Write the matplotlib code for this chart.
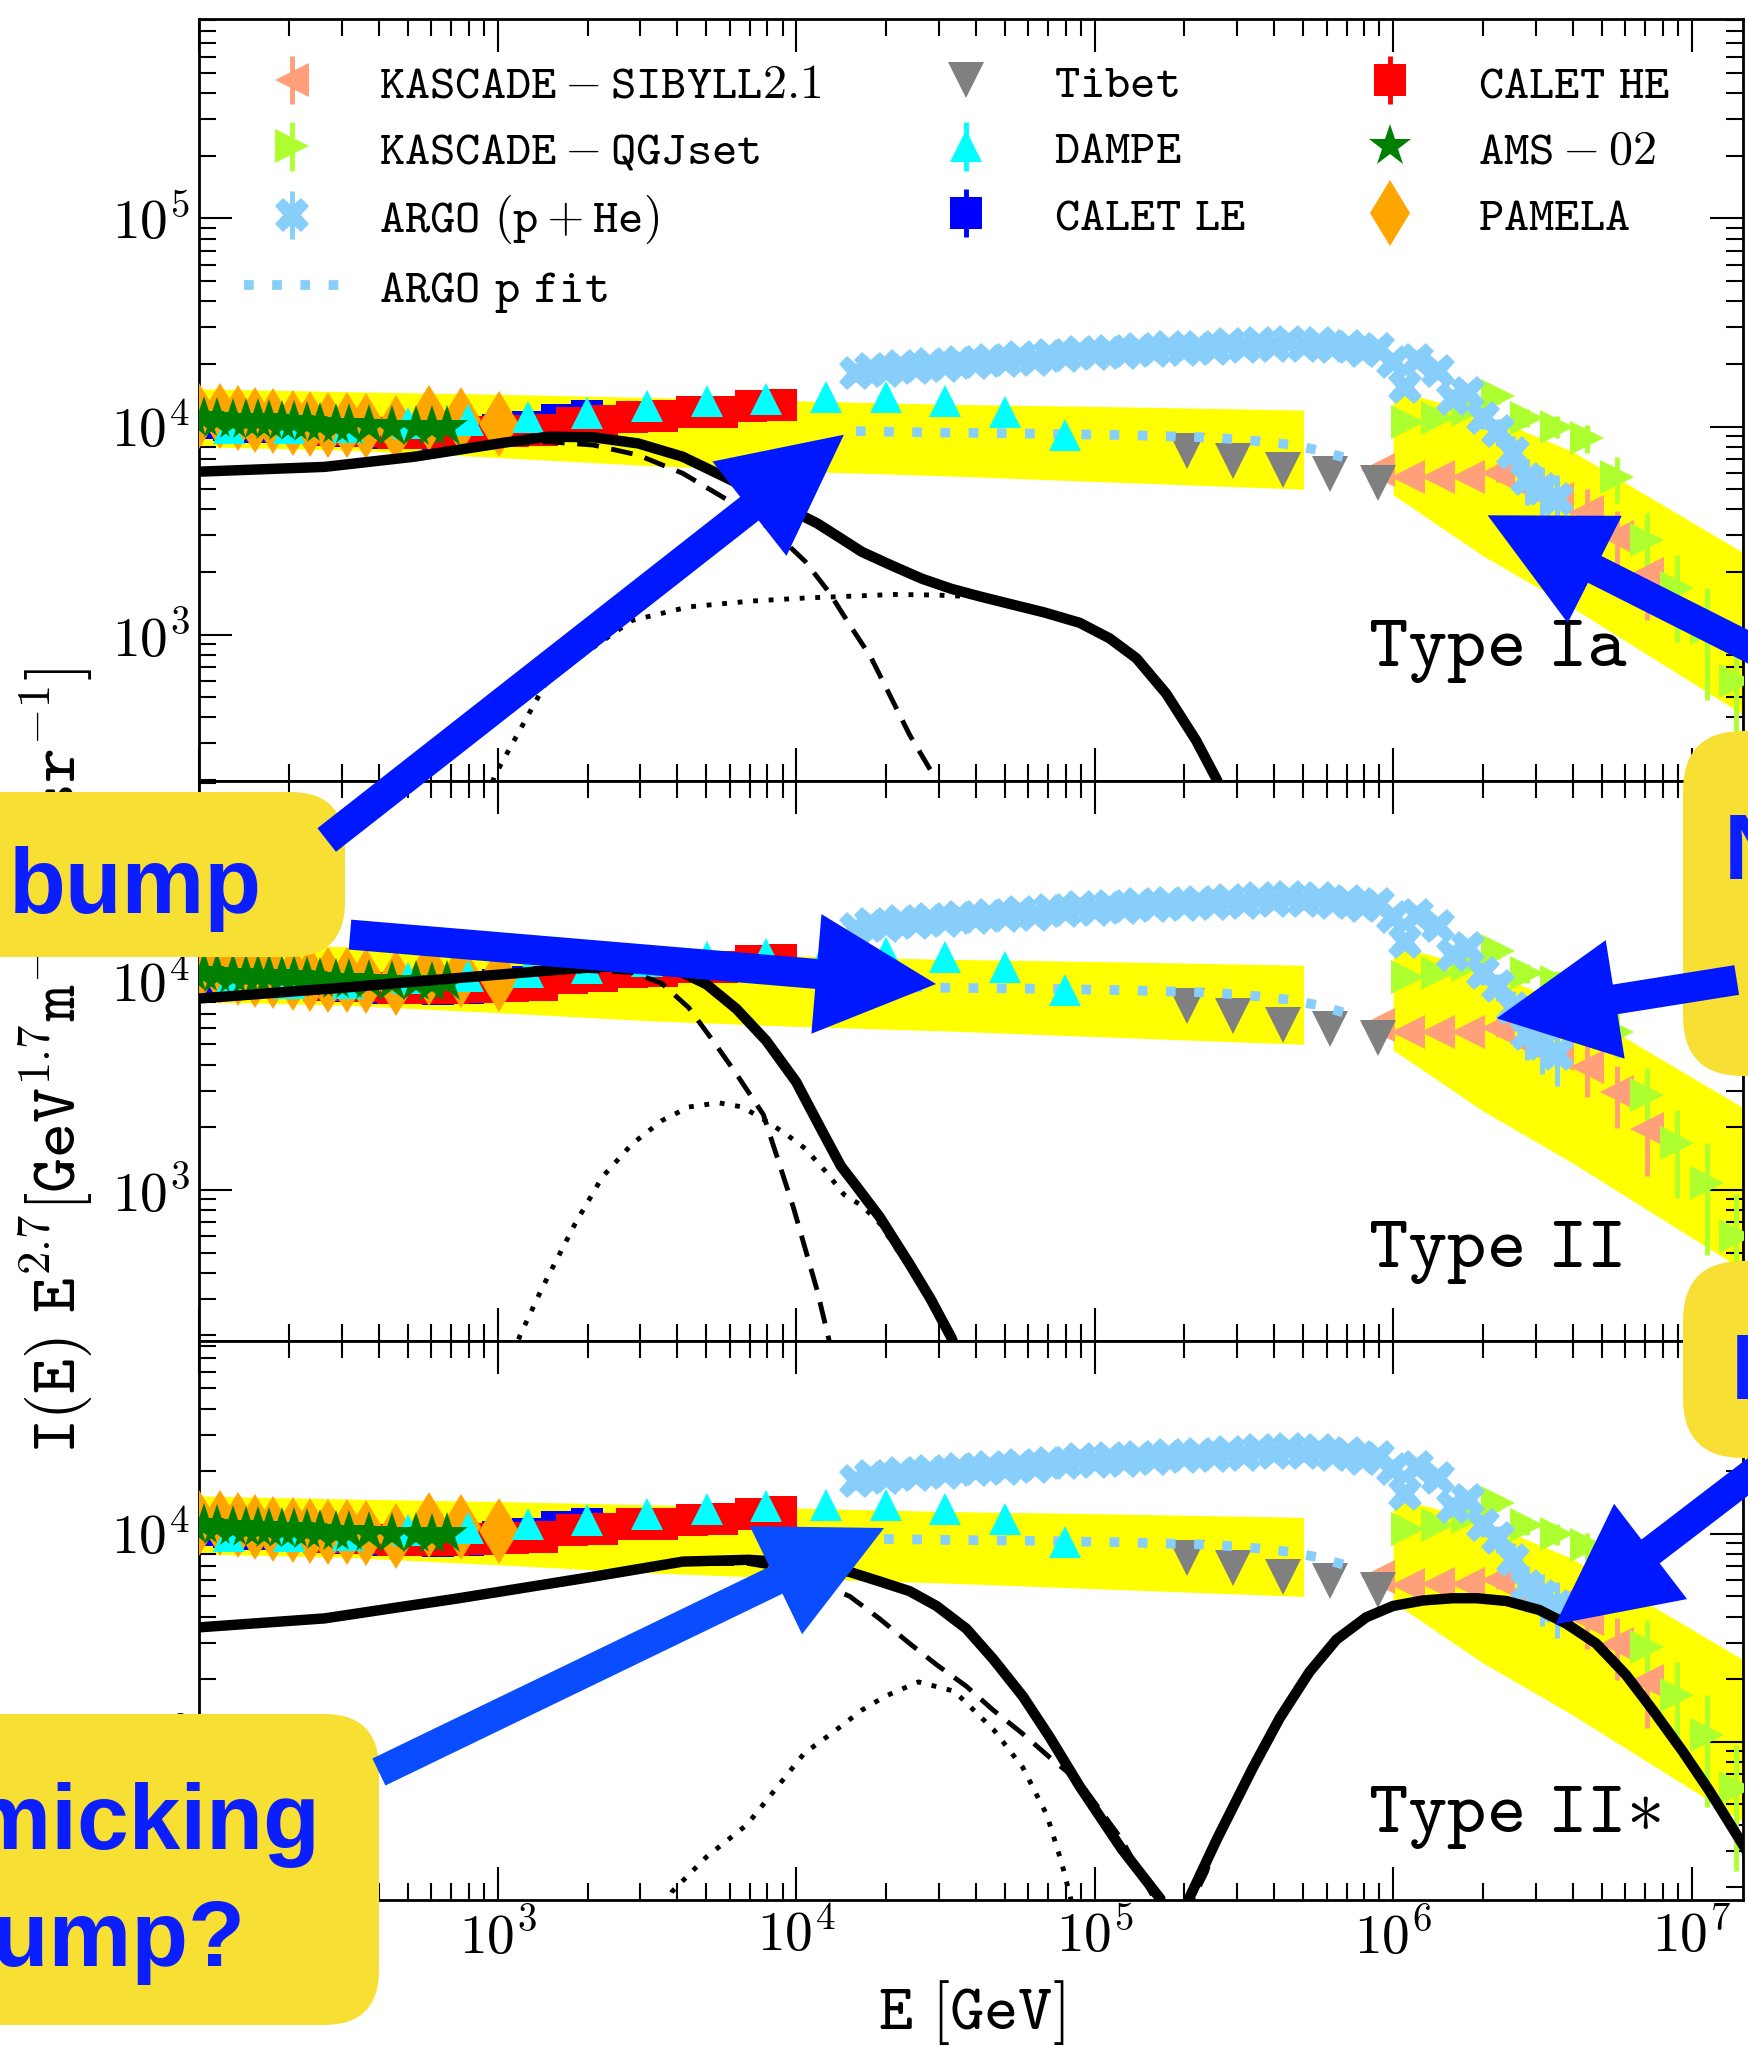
import numpy as np
import matplotlib
matplotlib.use("Agg")
import matplotlib.pyplot as plt
import matplotlib.ticker as mticker
from matplotlib.patches import FancyArrow, FancyBboxPatch

plt.rcParams['mathtext.fontset'] = 'cm'
plt.rcParams['font.family'] = ['DejaVu Sans']

# energies are log10(E / GeV), intensities are I(E) E^2.7

# yellow uncertainty bands
band1_logE = [2.0, 2.5, 3.0, 3.5, 4.0, 4.5, 5.0, 5.7]
band1_low = [8.0e3, 7.7e3, 7.1e3, 6.5e3, 6.1e3, 5.8e3, 5.45e3, 5.0e3]
band1_high = [1.52e4, 1.47e4, 1.43e4, 1.38e4, 1.33e4, 1.28e4, 1.25e4, 1.2e4]
band2_logE = [6.0, 6.3, 6.6, 7.2]
band2_low = [4.7e3, 2.4e3, 1.35e3, 3.9e2]
band2_high = [1.5e4, 1.15e4, 7.6e3, 2.35e3]

# KASCADE
sib_logE = [5.95, 6.05, 6.15, 6.25, 6.35, 6.45, 6.55, 6.65, 6.75, 6.85]
sib_I = [6.2e3, 5.7e3, 5.75e3, 5.75e3, 6.0e3, 5.1e3, 4.5e3, 3.9e3, 2.95e3, 1.95e3]
sib_err = [0.06, 0.06, 0.07, 0.08, 0.1, 0.15, 0.2, 0.28, 0.33, 0.4]
qgj_logE = [6.05, 6.15, 6.25, 6.35, 6.45, 6.55, 6.65, 6.75, 6.85, 6.95, 7.05, 7.15]
qgj_I = [1.05e4, 1.1e4, 1.2e4, 1.4e4, 1.1e4, 1.0e4, 8.8e3, 5.7e3, 2.85e3, 1.67e3, 1.08e3, 6.0e2]
qgj_err = [0.05, 0.05, 0.06, 0.08, 0.1, 0.12, 0.15, 0.25, 0.35, 0.45, 0.55, 0.6]

# ARGO (p + He)
argo_logE = [4.20, 4.25, 4.30, 4.35, 4.40, 4.45, 4.50, 4.55, 4.60, 4.65, 4.70, 4.75,
             4.80, 4.85, 4.90, 4.95, 5.00, 5.05, 5.10, 5.15, 5.20, 5.25, 5.30, 5.35,
             5.40, 5.45, 5.50, 5.55, 5.60, 5.65, 5.70, 5.75, 5.80, 5.85, 5.90, 5.95,
             6.00, 6.04, 6.08, 6.15, 6.20, 6.25, 6.30, 6.35, 6.40, 6.45, 6.50, 6.55]
argo_I = [1.80e4, 1.90e4, 1.85e4, 1.95e4, 1.92e4, 2.00e4, 1.95e4, 2.05e4, 2.02e4, 2.10e4, 2.06e4, 2.15e4,
          2.10e4, 2.20e4, 2.18e4, 2.28e4, 2.22e4, 2.32e4, 2.25e4, 2.35e4, 2.30e4, 2.40e4, 2.33e4, 2.42e4,
          2.36e4, 2.48e4, 2.40e4, 2.52e4, 2.45e4, 2.55e4, 2.45e4, 2.52e4, 2.40e4, 2.45e4, 2.30e4, 2.35e4,
          2.05e4, 1.55e4, 2.10e4, 1.85e4, 1.35e4, 1.45e4, 1.10e4, 9.5e3, 7.5e3, 5.6e3, 5.0e3, 4.5e3]
argo_err = [0.02] * 42 + [0.12, 0.15, 0.2, 0.25, 0.28, 0.3]

# ARGO proton fit
fit_logE = [4.2, 4.5, 4.8, 5.1, 5.4, 5.55, 5.65, 5.75, 5.85]
fit_I = [9.5e3, 9.35e3, 9.25e3, 9.1e3, 8.85e3, 8.5e3, 8.2e3, 7.7e3, 7.0e3]

# Tibet
tibet_logE = [5.31, 5.465, 5.63, 5.79, 5.95]
tibet_I = [7.65e3, 6.85e3, 6.2e3, 5.93e3, 5.35e3]

# DAMPE
dampe_logE = [2.1, 2.3, 2.5, 2.7, 2.9, 3.1, 3.3, 3.5, 3.7, 3.9, 4.1, 4.3, 4.5, 4.7, 4.9]
dampe_I = [9.8e3, 9.8e3, 9.9e3, 1.04e4, 1.07e4, 1.11e4, 1.16e4, 1.25e4, 1.32e4, 1.36e4,
           1.38e4, 1.38e4, 1.32e4, 1.18e4, 9.1e3]

# CALET
caletle_logE = [2.0, 2.1, 2.2, 2.3, 2.4, 2.5, 2.6, 2.7, 2.8, 2.9, 3.0, 3.1, 3.2, 3.3]
caletle_I = [1.04e4, 1.02e4, 1.0e4, 9.8e3, 9.6e3, 9.5e3, 9.3e3, 9.3e3, 9.2e3, 9.3e3,
             9.6e3, 1.0e4, 1.08e4, 1.12e4]
calethe_logE = [2.35, 2.45, 2.55, 2.65, 2.75, 2.85, 2.95, 3.05, 3.15, 3.25, 3.35,
                3.45, 3.55, 3.65, 3.75, 3.85, 3.95]
calethe_I = [9.8e3, 9.6e3, 9.5e3, 9.3e3, 9.3e3, 9.3e3, 9.4e3, 9.5e3, 9.6e3, 1.04e4, 1.06e4,
             1.11e4, 1.12e4, 1.17e4, 1.18e4, 1.25e4, 1.27e4]

# AMS-02
ams_logE = [1.98, 2.017, 2.061, 2.114, 2.158, 2.196, 2.233, 2.278, 2.316, 2.360,
            2.405, 2.458, 2.502, 2.570, 2.645, 2.727, 2.779, 2.831]
ams_I = [1.10e4, 1.10e4, 1.09e4, 1.08e4, 1.07e4, 1.07e4, 1.06e4, 1.05e4, 1.05e4, 1.04e4,
         1.03e4, 1.02e4, 1.02e4, 1.01e4, 1.0e4, 1.0e4, 9.9e3, 1.0e4]

# PAMELA
pamela_logE = [2.001, 2.069, 2.129, 2.188, 2.248, 2.313, 2.372, 2.432, 2.495, 2.558,
               2.66, 2.771, 2.876, 3.003]
pamela_I = [1.13e4, 1.13e4, 1.1e4, 1.08e4, 1.06e4, 1.04e4, 1.03e4, 1.02e4,
            1.02e4, 1.01e4, 9.8e3, 1.1e4, 1.08e4, 1.03e4]

# model curves, Type Ia
ia_solid_logE = [2.0, 2.42, 2.72, 3.02, 3.17, 3.32, 3.47, 3.62, 3.77, 3.92, 4.07, 4.15,
                 4.22, 4.32, 4.42, 4.52, 4.62, 4.72, 4.83, 4.95, 5.05, 5.14, 5.24, 5.34,
                 5.41, 5.46]
ia_solid_I = [6.07e3, 6.4e3, 7.16e3, 8.36e3, 8.94e3, 8.88e3, 8.3e3, 7.16e3, 5.64e3, 4.4e3,
              3.43e3, 2.9e3, 2.5e3, 2.15e3, 1.86e3, 1.66e3, 1.52e3, 1.4e3, 1.28e3, 1.14e3,
              9.6e2, 7.7e2, 5.2e2, 3.1e2, 2.0e2, 1.3e2]
ia_dash_logE = [2.0, 2.5, 3.0, 3.17, 3.32, 3.47, 3.62, 3.77, 3.92, 4.03, 4.11, 4.18,
                4.25, 4.33, 4.38, 4.47, 4.52]
ia_dash_I = [6.0e3, 6.6e3, 8.2e3, 8.45e3, 8.15e3, 7.3e3, 5.96e3, 4.44e3, 3.18e3, 2.25e3,
             1.6e3, 1.11e3, 7.8e2, 4.6e2, 3.3e2, 2.0e2, 1.3e2]
ia_dot_logE = [2.93, 2.99, 3.08, 3.16, 3.3, 3.45, 3.64, 3.85, 4.03, 4.18, 4.33, 4.47,
               4.6, 4.76, 4.95, 5.05, 5.14, 5.24, 5.34, 5.41, 5.46]
ia_dot_I = [1.2e2, 2.1e2, 3.6e2, 5.8e2, 8.3e2, 1.17e3, 1.36e3, 1.45e3, 1.5e3, 1.53e3,
            1.56e3, 1.55e3, 1.52e3, 1.37e3, 1.12e3, 9.4e2, 7.6e2, 5.15e2, 3.08e2, 1.98e2, 1.28e2]

# model curves, Type II
ii_solid_logE = [2.0, 2.5, 3.0, 3.3, 3.5, 3.6, 3.7, 3.8, 3.9, 4.0, 4.08, 4.15, 4.2,
                 4.28, 4.38, 4.45, 4.52, 4.57]
ii_solid_I = [8.3e3, 9.4e3, 1.08e4, 1.17e4, 1.2e4, 1.14e4, 9.7e3, 7.4e3, 5.2e3, 3.3e3,
              2.0e3, 1.3e3, 1.05e3, 7.4e2, 4.4e2, 3.0e2, 1.95e2, 1.3e2]
ii_dash_logE = [2.0, 2.5, 3.0, 3.3, 3.45, 3.55, 3.64, 3.73, 3.8, 3.89, 3.99, 4.07,
                4.11, 4.15]
ii_dash_I = [8.2e3, 9.3e3, 1.07e4, 1.13e4, 1.11e4, 9.8e3, 7.5e3, 5.0e3, 3.6e3, 2.3e3,
             8.3e2, 3.3e2, 1.9e2, 1.1e2]
ii_dot_logE = [3.0, 3.075, 3.15, 3.26, 3.35, 3.45, 3.55, 3.64, 3.74, 3.82, 3.89, 3.96,
               4.03, 4.1, 4.16, 4.22, 4.28, 4.38, 4.45, 4.52, 4.57]
ii_dot_I = [1.0e2, 2.0e2, 3.4e2, 6.9e2, 1.15e3, 1.66e3, 2.15e3, 2.5e3, 2.62e3, 2.5e3,
            2.18e3, 1.88e3, 1.58e3, 1.22e3, 9.5e2, 8.4e2, 6.9e2, 4.2e2, 2.9e2, 1.9e2, 1.25e2]

# model curves, Type II*
iis_solid_logE = [2.0, 2.42, 2.87, 3.32, 3.62, 3.84, 4.0, 4.1, 4.18, 4.28, 4.38, 4.47,
                  4.57, 4.66, 4.76, 4.85, 4.95, 5.09, 5.22, 5.265, 5.316, 5.41, 5.53,
                  5.62, 5.72, 5.81, 5.91, 6.0, 6.1, 6.2, 6.28, 6.38, 6.49, 6.58, 6.68,
                  6.78, 6.87, 6.97, 7.06, 7.18, 7.25]
iis_solid_I = [3.55e3, 3.92e3, 4.9e3, 6.22e3, 7.35e3, 7.5e3, 7.25e3, 6.95e3, 6.55e3, 5.9e3,
               5.3e3, 4.5e3, 3.5e3, 2.5e3, 1.65e3, 1.05e3, 6.1e2, 3.06e2, 1.76e2, 3.0e1,
               1.76e2, 3.41e2, 7.5e2, 1.3e3, 2.17e3, 3.1e3, 3.97e3, 4.5e3, 4.78e3, 4.9e3,
               4.9e3, 4.75e3, 4.3e3, 3.7e3, 2.97e3, 2.1e3, 1.42e3, 9.0e2, 5.8e2, 3.06e2, 1.9e2]
iis_dash_logE = [2.0, 2.42, 2.87, 3.32, 3.62, 3.84, 4.0, 4.1, 4.18, 4.28, 4.38, 4.47,
                 4.57, 4.66, 4.76, 4.85, 4.95, 5.09, 5.2, 5.25, 5.33, 5.374, 5.41, 5.53,
                 5.62, 5.72, 5.81, 5.91, 6.0, 6.1, 6.2, 6.28, 6.38, 6.49, 6.58, 6.68,
                 6.78, 6.87, 6.97, 7.06, 7.18, 7.25]
iis_dash_I = [3.5e3, 3.88e3, 4.85e3, 6.1e3, 7.2e3, 7.2e3, 6.6e3, 5.6e3, 5.0e3, 3.9e3,
              2.97e3, 2.35e3, 1.85e3, 1.42e3, 1.09e3, 8.4e2, 6.4e2, 3.4e2, 1.76e2, 4.0e1,
              1.76e2, 2.36e2, 3.41e2, 7.5e2, 1.3e3, 2.17e3, 3.1e3, 3.97e3, 4.5e3, 4.78e3,
              4.9e3, 4.9e3, 4.75e3, 4.3e3, 3.7e3, 2.97e3, 2.1e3, 1.42e3, 9.0e2, 5.8e2,
              3.06e2, 1.9e2]
iis_dot_logE = [3.5, 3.585, 3.7, 3.835, 3.93, 4.027, 4.12, 4.22, 4.3, 4.41, 4.53, 4.66,
                4.76, 4.84, 4.89, 4.92, 4.96]
iis_dot_I = [1.0e2, 1.91e2, 2.8e2, 3.99e2, 5.9e2, 8.81e2, 1.1e3, 1.42e3, 1.66e3, 1.94e3,
             1.75e3, 1.15e3, 7.5e2, 4.44e2, 2.61e2, 1.76e2, 1.0e2]

legend_labels = [r'$\mathtt{KASCADE-SIBYLL2.1}$', r'$\mathtt{KASCADE-QGJset}$',
                 r'$\mathtt{ARGO}\ (\mathtt{p}+\mathtt{He})$', r'$\mathtt{ARGO\ p\ fit}$',
                 r'$\mathtt{Tibet}$', r'$\mathtt{DAMPE}$', r'$\mathtt{CALET\ LE}$',
                 r'$\mathtt{CALET\ HE}$', r'$\mathtt{AMS-02}$', r'$\mathtt{PAMELA}$']

W, H = 1749, 2048


def E(a):
    return 10 ** np.asarray(a)


def errorPoints(ax, logE, vals, frac, marker, ms, color, z):
    vals = np.asarray(vals)
    return ax.errorbar(E(logE), vals, yerr=np.asarray(frac) * vals, fmt=marker, ms=ms,
                       color=color, mec=color, mew=0, elinewidth=3.5, capsize=0, zorder=z)


def drawData(ax):
    # bands
    ax.fill_between(E(band1_logE), band1_low, band1_high, color='yellow', lw=0, zorder=1)
    ax.fill_between(E(band2_logE), band2_low, band2_high, color='yellow', lw=0, zorder=1)

    hSib = errorPoints(ax, sib_logE, sib_I, sib_err, '<', 24.5, '#ffa07a', 3)
    hQgj = errorPoints(ax, qgj_logE, qgj_I, qgj_err, '>', 24.5, '#adff2f', 3)
    hLe = errorPoints(ax, caletle_logE, caletle_I, [0.03] * len(caletle_I), 's', 22.5, '#0000ff', 3.2)
    hHe = errorPoints(ax, calethe_logE, calethe_I, [0.03] * len(calethe_I), 's', 22.5, '#ff0000', 3.4)
    hPam, = ax.plot(E(pamela_logE), pamela_I, 'd', ms=34, color='#ffa500', mew=0, zorder=3.6)
    hTib, = ax.plot(E(tibet_logE), tibet_I, 'v', ms=26.5, color='#808080', mew=0, zorder=3.7)
    hFit, = ax.plot(E(fit_logE), fit_I, color='#87cefa', lw=7, dashes=(1, 1.9),
                    dash_capstyle='butt', zorder=3.8)
    hDam = errorPoints(ax, dampe_logE, dampe_I, [0.03] * len(dampe_I), '^', 23, '#00ffff', 4)
    hAms, = ax.plot(E(ams_logE), ams_I, '*', ms=32, color='#008000', mew=0, zorder=5)
    hArg = errorPoints(ax, argo_logE, argo_I, argo_err, 'X', 25, '#87cefa', 5.5)

    return [hSib, hQgj, hArg, hFit, hTib, hDam, hLe, hHe, hAms, hPam]


def drawModel(ax, solid, dash, dot, name, ytext):
    ax.plot(E(solid[0]), solid[1], color='black', lw=7.5, zorder=10,
            solid_joinstyle='round')
    ax.plot(E(dash[0]), dash[1], color='black', lw=3.5, dashes=(4.5, 2.6), zorder=10)
    ax.plot(E(dot[0]), dot[1], color='black', lw=3.5, dashes=(1, 2.2), zorder=10)
    ax.text(0.757, ytext, name, transform=ax.transAxes, fontsize=54, ha='left', va='baseline')


def powerLabel(v, pos):
    return r'$10^{%d}$' % int(round(np.log10(v)))


def setupAxis(ax, ylo, yhi, showX):
    ax.set_xscale('log')
    ax.set_yscale('log')
    ax.set_xlim(1e2, 1.49e7)
    ax.set_ylim(ylo, yhi)
    for axis in [ax.xaxis, ax.yaxis]:
        axis.set_major_locator(mticker.LogLocator(base=10, numticks=20))
        axis.set_minor_locator(mticker.LogLocator(base=10, subs=np.arange(2, 10), numticks=20))
        axis.set_major_formatter(mticker.FuncFormatter(powerLabel))
        axis.set_minor_formatter(mticker.NullFormatter())
    ax.tick_params(which='both', direction='in', top=True, right=True, width=1.5)
    ax.tick_params(which='major', length=24, labelsize=40, pad=7)
    ax.tick_params(which='minor', length=12)
    if not showX:
        ax.tick_params(labelbottom=False)
    for s in ax.spines.values():
        s.set_linewidth(2)


def figRect(topPx, botPx):
    left = 199.2 / W
    width = (1743.3 - 199.2) / W
    return [left, 1 - botPx / H, width, (botPx - topPx) / H]


def addAnnotations(fig):
    # overlay in pixel units for the slide boxes and arrows
    ov = fig.add_axes([0, 0, 1, 1], zorder=20)
    ov.set_xlim(0, W)
    ov.set_ylim(H, 0)
    ov.set_axis_off()

    boxYellow = '#f7df33'
    textBlue = '#0a1eff'
    boxes = [(-80, 792, 345, 957, 55), (-80, 1714, 379, 2025, 55),
             (1683, 731, 1830, 1076, 60), (1683, 1261, 1830, 1458, 60)]
    for x0, y0, x1, y1, r in boxes:
        ov.add_patch(FancyBboxPatch((x0, y0), x1 - x0, y1 - y0,
                                    boxstyle='round,pad=0,rounding_size=%d' % r,
                                    fc=boxYellow, ec='none', zorder=1))

    font = dict(fontsize=67, fontweight='bold', family='Liberation Sans', color=textBlue,
                va='baseline', zorder=3)
    ov.text(262, 913, 'bump', ha='right', **font)
    ov.text(91, 1849, 'mimicking', ha='center', **font)
    ov.text(91, 1966, 'bump?', ha='center', **font)
    ov.text(1724, 879, 'New', ha='left', **font)
    ov.text(1731, 1399, 'Hint', ha='left', **font)

    arrows = [(326.7, 840, 843.9, 434.7, '#0018ff'),
              (350, 934.6, 936, 984, '#0018ff'),
              (1736.7, 980, 1496.7, 1018.3, '#0018ff'),
              (1800, 673, 1487.6, 515.3, '#0018ff'),
              (1800, 1437, 1555.3, 1624.4, '#0018ff'),
              (378.9, 1772, 884, 1528, '#0a4cff')]
    for x0, y0, x1, y1, c in arrows:
        ov.add_patch(FancyArrow(x0, y0, x1 - x0, y1 - y0, width=30, head_width=120,
                                head_length=120, length_includes_head=True,
                                fc=c, ec='none', lw=0, zorder=2))


def main():
    fig = plt.figure(figsize=(W / 100, H / 100), dpi=100)
    axTop = fig.add_axes(figRect(18.9, 781))
    axMid = fig.add_axes(figRect(781, 1340.5))
    axBot = fig.add_axes(figRect(1340.5, 1900))

    setupAxis(axTop, 198, 9.1e5, False)
    setupAxis(axMid, 189, 9.2e4, False)
    setupAxis(axBot, 173.5, 8.5e4, True)

    handles = drawData(axTop)
    drawData(axMid)
    drawData(axBot)

    drawModel(axTop, (ia_solid_logE, ia_solid_I), (ia_dash_logE, ia_dash_I),
              (ia_dot_logE, ia_dot_I), r'$\mathtt{Type\ Ia}$', 0.151)
    drawModel(axMid, (ii_solid_logE, ii_solid_I), (ii_dash_logE, ii_dash_I),
              (ii_dot_logE, ii_dot_I), r'$\mathtt{Type\ II}$', 0.132)
    drawModel(axBot, (iis_solid_logE, iis_solid_I), (iis_dash_logE, iis_dash_I),
              (iis_dot_logE, iis_dot_I), r'$\mathtt{Type\ II}{\ast}$', 0.1215)

    axTop.legend(handles, legend_labels, ncol=3, loc='upper left',
                 bbox_to_anchor=(0.0287, 0.946), frameon=False, fontsize=34.7,
                 handlelength=2.0, handletextpad=0.82, columnspacing=1.99,
                 labelspacing=0.40, borderpad=0, borderaxespad=0, numpoints=1)

    axMid.set_ylabel(r'$\mathtt{I}(\mathtt{E})\ \mathtt{E}^{2.7}[\mathtt{GeV}^{1.7}'
                     r'\mathtt{m}^{-2}\mathtt{s}^{-1}\mathtt{sr}^{-1}]$', fontsize=48)
    axMid.yaxis.set_label_coords(-0.0675, 0.5)
    axBot.set_xlabel(r'$\mathtt{E}\ [\mathtt{GeV}]$', fontsize=47)
    axBot.xaxis.set_label_coords(0.5, -0.139)

    addAnnotations(fig)

    fig.savefig('out.png', dpi=100)


main()
